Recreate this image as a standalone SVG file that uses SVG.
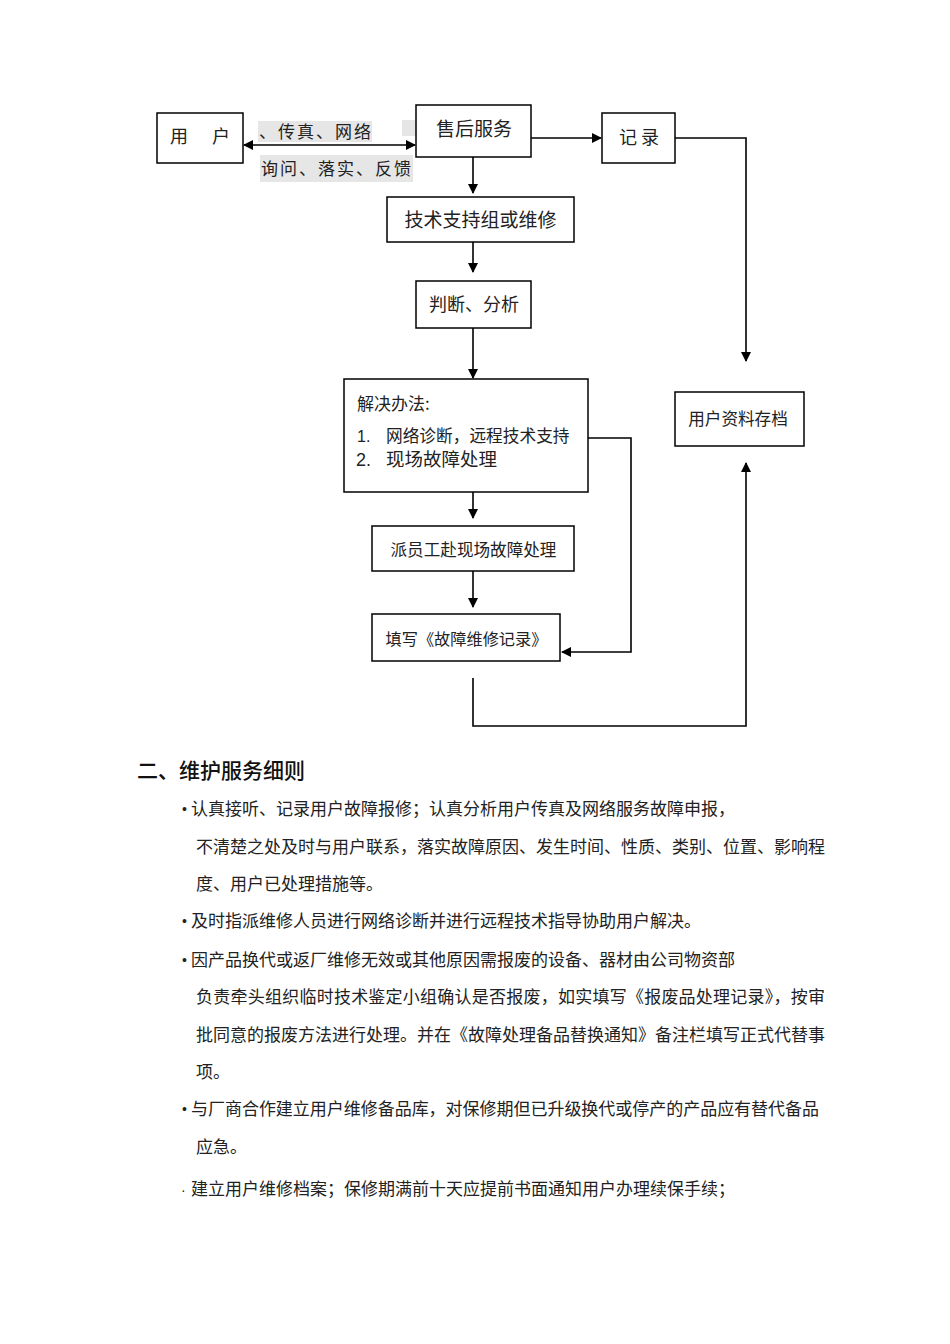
<svg xmlns="http://www.w3.org/2000/svg" width="950" height="1344" viewBox="0 0 950 1344">
<style>
.box{fill:#fff;stroke:#000;stroke-width:1.5}
.ln{fill:none;stroke:#000;stroke-width:1.6}
.t{font-family:"Noto Sans CJK SC","Liberation Sans",sans-serif;fill:#222}
.n{font-family:"Liberation Sans","Noto Sans CJK SC",sans-serif;fill:#222}
.bd{font-family:"Noto Sans CJK SC","Liberation Sans",sans-serif;fill:#111}
.p{font-family:"Noto Sans CJK SC","Liberation Sans",sans-serif;font-size:17px;fill:#222}
.b{font-family:"Liberation Sans",sans-serif;font-size:14px;fill:#222}
</style>
<defs>
<marker id="ah" markerWidth="10" markerHeight="10" refX="9" refY="5" orient="auto" markerUnits="userSpaceOnUse">
<path d="M0,0 L10,5 L0,10 z" fill="#000"/>
</marker>
<marker id="as" markerWidth="10" markerHeight="10" refX="1" refY="5" orient="auto" markerUnits="userSpaceOnUse">
<path d="M10,0 L0,5 L10,10 z" fill="#000"/>
</marker>
</defs>

<g id="labels-bg">
<rect x="258" y="121" width="114" height="21" fill="#e6e6e6"/>
<rect x="402" y="120" width="14" height="16" fill="#e6e6e6"/>
<rect x="260" y="155" width="153" height="27" fill="#e6e6e6"/>
</g>

<g id="connectors">
<line class="ln" x1="244" y1="145" x2="415" y2="145" marker-start="url(#as)" marker-end="url(#ah)"/>
<line class="ln" x1="531" y1="138" x2="601" y2="138" marker-end="url(#ah)"/>
<polyline class="ln" points="675,138 746,138 746,361" marker-end="url(#ah)"/>
<line class="ln" x1="473" y1="157" x2="473" y2="193" marker-end="url(#ah)"/>
<line class="ln" x1="473" y1="242" x2="473" y2="272" marker-end="url(#ah)"/>
<line class="ln" x1="473" y1="328" x2="473" y2="378" marker-end="url(#ah)"/>
<line class="ln" x1="473" y1="492" x2="473" y2="518" marker-end="url(#ah)"/>
<line class="ln" x1="473" y1="571" x2="473" y2="607" marker-end="url(#ah)"/>
<polyline class="ln" points="588,438 631,438 631,652 562,652" marker-end="url(#ah)"/>
<polyline class="ln" points="473,678 473,726 746,726 746,463" marker-end="url(#ah)"/>
</g>

<g id="n-user">
<rect class="box" x="157" y="113" width="86" height="50"/>
<text class="t" x="170" y="143" font-size="18">用</text>
<text class="t" x="212" y="143" font-size="18">户</text>
</g>
<text class="t" x="259" y="138" font-size="17" letter-spacing="2">、传真、网络</text>
<text class="t" x="261" y="175" font-size="17" letter-spacing="2">询问、落实、反馈</text>

<g id="n-service">
<rect class="box" x="416" y="105" width="115" height="52"/>
<text class="t" x="474" y="136" font-size="19" text-anchor="middle">售后服务</text>
</g>
<g id="n-record">
<rect class="box" x="602" y="113" width="73" height="50"/>
<text class="t" x="639" y="144" font-size="18" text-anchor="middle">记 录</text>
</g>
<g id="n-tech">
<rect class="box" x="387" y="197" width="187" height="45"/>
<text class="t" x="480.5" y="227" font-size="19" text-anchor="middle">技术支持组或维修</text>
</g>
<g id="n-judge">
<rect class="box" x="416" y="281" width="115" height="47"/>
<text class="t" x="474" y="311" font-size="18" text-anchor="middle">判断、分析</text>
</g>
<g id="n-solution">
<rect class="box" x="344" y="379" width="244" height="113"/>
<text class="t" x="357" y="410" font-size="17">解决办法:</text>
<text class="n" x="357" y="442" font-size="16">1.</text>
<text class="t" x="386" y="442" font-size="16.7">网络诊断，远程技术支持</text>
<text class="n" x="356" y="466" font-size="18">2.</text>
<text class="t" x="386" y="466" font-size="18.5">现场故障处理</text>
</g>
<g id="n-dispatch">
<rect class="box" x="372" y="526" width="202" height="45"/>
<text class="t" x="473.5" y="556" font-size="16.6" text-anchor="middle">派员工赴现场故障处理</text>
</g>
<g id="n-fill">
<rect class="box" x="372" y="614" width="188" height="47"/>
<text class="t" x="466.5" y="645" font-size="16.2" text-anchor="middle">填写《故障维修记录》</text>
</g>
<g id="n-archive">
<rect class="box" x="675" y="392" width="129" height="54"/>
<text class="t" x="738" y="425" font-size="16.6" text-anchor="middle">用户资料存档</text>
</g>

<g id="body">
<text class="bd" x="137" y="778" font-size="21" font-weight="500">二、维护服务细则</text>
<text class="b" x="182" y="814">•</text>
<text class="p" x="191" y="815">认真接听、记录用户故障报修；认真分析用户传真及网络服务故障申报，</text>
<text class="p" x="196" y="853" textLength="629" lengthAdjust="spacing">不清楚之处及时与用户联系，落实故障原因、发生时间、性质、类别、位置、影响程</text>
<text class="p" x="196" y="890">度、用户已处理措施等。</text>
<text class="b" x="182" y="926">•</text>
<text class="p" x="191" y="927">及时指派维修人员进行网络诊断并进行远程技术指导协助用户解决。</text>
<text class="b" x="182" y="965">•</text>
<text class="p" x="191" y="966">因产品换代或返厂维修无效或其他原因需报废的设备、器材由公司物资部</text>
<text class="p" x="196" y="1003" textLength="629" lengthAdjust="spacing">负责牵头组织临时技术鉴定小组确认是否报废，如实填写《报废品处理记录》，按审</text>
<text class="p" x="196" y="1041" textLength="629" lengthAdjust="spacing">批同意的报废方法进行处理。并在《故障处理备品替换通知》备注栏填写正式代替事</text>
<text class="p" x="196" y="1078">项。</text>
<text class="b" x="182" y="1114">•</text>
<text class="p" x="191" y="1115" textLength="628" lengthAdjust="spacing">与厂商合作建立用户维修备品库，对保修期但已升级换代或停产的产品应有替代备品</text>
<text class="p" x="196" y="1153">应急。</text>
<text class="b" x="181" y="1195">·</text>
<text class="p" x="191" y="1195">建立用户维修档案；保修期满前十天应提前书面通知用户办理续保手续；</text>
</g>
</svg>
